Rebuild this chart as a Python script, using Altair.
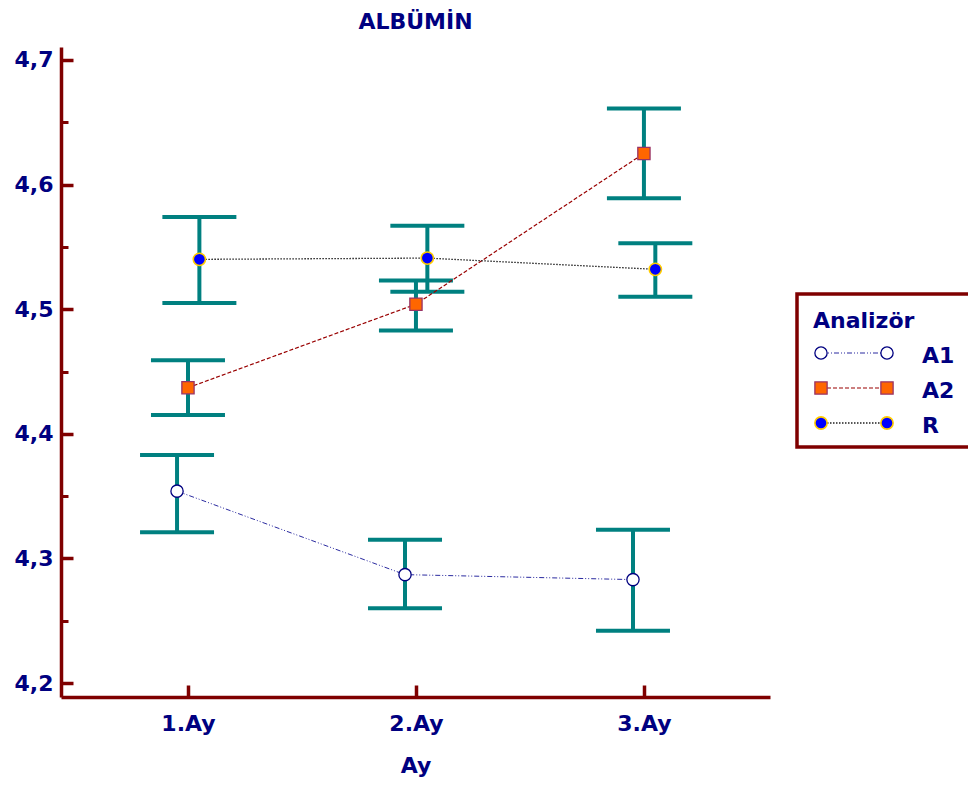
import json
import altair as alt
import pandas as pd

# ---------------- data ----------------
months = ["1.Ay", "2.Ay", "3.Ay"]
month_num = [1, 2, 3]
series = ["A1", "A2", "R"]

a1_mean = [4.354, 4.287, 4.283]
a1_low = [4.321, 4.260, 4.242]
a1_high = [4.383, 4.315, 4.323]

a2_mean = [4.437, 4.504, 4.625]
a2_low = [4.415, 4.483, 4.589]
a2_high = [4.459, 4.523, 4.661]

r_mean = [4.540, 4.541, 4.532]
r_low = [4.505, 4.514, 4.510]
r_high = [4.574, 4.567, 4.553]

y_major = [4.2, 4.3, 4.4, 4.5, 4.6, 4.7]
y_minor = [4.25, 4.35, 4.45, 4.55, 4.65]

title_text = "ALBÜMİN"
x_title = "Ay"
legend_title = "Analizör"

# ---------------- styles ----------------
FONT = "DejaVu Sans"
NAVY = "#000080"
MAROON = "#7F0000"
TEAL = "#008080"

offsets = {"A1": -0.048, "A2": 0.0, "R": 0.05}
styles = {
    "A1": dict(shape="circle", fill="#FFFFFF", stroke="#000080", sw=1.3, size=150,
               line="#2B2BA0", dash=[5, 2, 1, 2, 1, 2], lw=1.0),
    "A2": dict(shape="square", fill="#FF6600", stroke="#993366", sw=1.3, size=150,
               line="#990000", dash=[4, 2], lw=1.2),
    "R": dict(shape="circle", fill="#0000FF", stroke="#FFCC00", sw=1.6, size=150,
              line="#202020", dash=[1.5, 1.5], lw=1.3),
}

rows = []
for s, m, lo, hi in zip(series, [a1_mean, a2_mean, r_mean],
                        [a1_low, a2_low, r_low], [a1_high, a2_high, r_high]):
    for i in range(len(months)):
        rows.append(dict(series=s, month=month_num[i], label=months[i],
                         mean=m[i], lo=lo[i], hi=hi[i]))
df = pd.DataFrame(rows)
df["xpos"] = df["month"] + df["series"].map(offsets)

xs = alt.Scale(domain=[0.443, 3.553], nice=False, zero=False)
ys = alt.Scale(domain=[4.1888, 4.7104], nice=False, zero=False)
X = alt.X("xpos:Q", scale=xs, axis=None)

ylab = "replace(format(datum.value, '.1f'), '.', ',')"
xlab = json.dumps(months) + "[datum.value - 1]"

base = alt.Chart(df)

# ---------------- axes ----------------
ax_main = base.mark_point(opacity=0).encode(
    x=alt.X("month:Q", scale=xs, axis=alt.Axis(
        orient="bottom", values=month_num, labelExpr=xlab, ticks=False, tickSize=0,
        domain=True, domainColor=MAROON, domainWidth=3.5, grid=False,
        labelFont=FONT, labelFontSize=22, labelFontWeight="bold", labelColor=NAVY,
        labelPadding=16, labelFlush=False, labelOverlap=False,
        title=x_title, titleFont=FONT, titleFontSize=22, titleFontWeight="bold",
        titleColor=NAVY, titlePadding=21)),
    y=alt.Y("mean:Q", scale=ys, axis=alt.Axis(
        orient="left", values=y_major, labelExpr=ylab, ticks=False, tickSize=0,
        domain=True, domainColor=MAROON, domainWidth=3.5, grid=False,
        labelFont=FONT, labelFontSize=22, labelFontWeight="bold", labelColor=NAVY,
        labelPadding=8, labelFlush=False, labelOverlap=False, title=None)),
)

ax_major = base.mark_point(opacity=0).encode(
    x=alt.X("month:Q", scale=xs, axis=alt.Axis(
        orient="bottom", values=month_num, labels=False, domain=False, ticks=True,
        tickSize=12, tickWidth=3.5, tickColor=MAROON, offset=-12, grid=False, title=None)),
    y=alt.Y("mean:Q", scale=ys, axis=alt.Axis(
        orient="left", values=y_major, labels=False, domain=False, ticks=True,
        tickSize=12, tickWidth=3.5, tickColor=MAROON, offset=-12, grid=False, title=None)),
)

ax_minor = base.mark_point(opacity=0).encode(
    x=alt.X("month:Q", scale=xs, axis=None),
    y=alt.Y("mean:Q", scale=ys, axis=alt.Axis(
        orient="left", values=y_minor, labels=False, domain=False, ticks=True,
        tickSize=7, tickWidth=3, tickColor=MAROON, offset=-7, grid=False, title=None)),
)

# ---------------- error bars ----------------
stems = base.mark_rule(color=TEAL, strokeWidth=4).encode(
    x=X, y=alt.Y("lo:Q", scale=ys, axis=None), y2="hi:Q")
cap_hi = base.mark_tick(orient="horizontal", size=74, thickness=4, color=TEAL, opacity=1).encode(
    x=X, y=alt.Y("hi:Q", scale=ys, axis=None))
cap_lo = base.mark_tick(orient="horizontal", size=74, thickness=4, color=TEAL, opacity=1).encode(
    x=X, y=alt.Y("lo:Q", scale=ys, axis=None))

# ---------------- series ----------------
line_layers, point_layers = [], []
for s in series:
    st = styles[s]
    sd = base.transform_filter(alt.datum.series == s)
    line_layers.append(sd.mark_line(color=st["line"], strokeDash=st["dash"],
                                    strokeWidth=st["lw"]).encode(
        x=X, y=alt.Y("mean:Q", scale=ys, axis=None)))
    point_layers.append(sd.mark_point(shape=st["shape"], filled=True, fill=st["fill"],
                                      stroke=st["stroke"], strokeWidth=st["sw"],
                                      size=st["size"], opacity=1).encode(
        x=X, y=alt.Y("mean:Q", scale=ys, axis=None)))

# ---------------- legend ----------------
one = alt.Chart(pd.DataFrame({"a": [0]}))
leg_box = one.mark_rect(fill="white", stroke=MAROON, strokeWidth=3.5).encode(
    x=alt.value(736), x2=alt.value(950), y=alt.value(247), y2=alt.value(400))
leg_title = one.mark_text(align="left", baseline="alphabetic", font=FONT, fontSize=22,
                          fontWeight="bold", color=NAVY, text=legend_title).encode(
    x=alt.value(752), y=alt.value(281))

LY = alt.Y("series:N", scale=alt.Scale(type="point", domain=series, range=[306, 376],
                                       padding=0), axis=None)
leg_layers = [leg_box, leg_title]
for s in series:
    st = styles[s]
    ld = alt.Chart(pd.DataFrame({"series": [s]}))
    leg_layers.append(ld.mark_rule(color=st["line"], strokeDash=st["dash"],
                                   strokeWidth=st["lw"]).encode(
        x=alt.value(760), x2=alt.value(826), y=LY))
    for xv in (760, 826):
        leg_layers.append(ld.mark_point(shape=st["shape"], filled=True, fill=st["fill"],
                                        stroke=st["stroke"], strokeWidth=st["sw"],
                                        size=st["size"], opacity=1).encode(
            x=alt.value(xv), y=LY))
    leg_layers.append(ld.mark_text(align="left", baseline="alphabetic", dy=10, font=FONT,
                                   fontSize=22, fontWeight="bold", color=NAVY).encode(
        x=alt.value(861), y=LY, text="series:N"))

chart = alt.layer(
    ax_main, ax_major, ax_minor, stems, cap_hi, cap_lo,
    *line_layers, *point_layers, *leg_layers
).resolve_scale(y="independent").resolve_axis(x="independent", y="independent").properties(
    width=709, height=650,
    padding={"left": 53, "top": 39, "right": 198, "bottom": 80},
    autosize=alt.AutoSizeParams(type="none"),
    title=alt.TitleParams(text=title_text, font=FONT, fontSize=22, fontWeight="bold",
                          color=NAVY, anchor="middle", frame="group", offset=13),
    background="white",
).configure_view(stroke=None)

chart.save("out.html", embed_options={"renderer": "svg", "actions": False})
